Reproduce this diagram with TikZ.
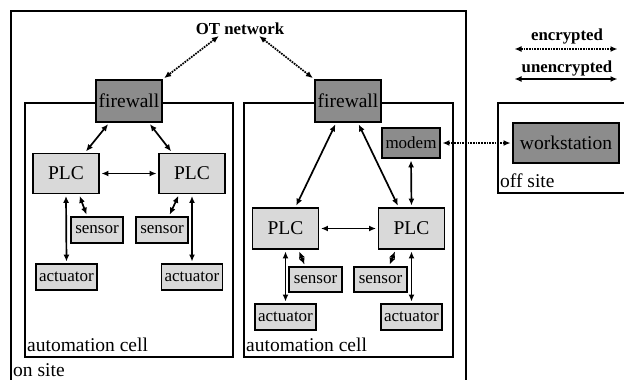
\documentclass[tikz,border=0pt]{standalone}
\usepackage{fontspec}
\setmainfont{Liberation Serif}
\usetikzlibrary{arrows.meta}
\definecolor{darkbox}{RGB}{140,140,140}
\definecolor{lightbox}{RGB}{217,217,217}
\tikzset{
  dev/.style={draw, line width=1.9pt, inner sep=0pt, font=\fontsize{19.5}{20}\selectfont},
  fwbox/.style={dev, fill=darkbox, minimum width=66pt, minimum height=42pt},
  plcbox/.style={dev, fill=lightbox, minimum width=66pt, minimum height=40pt},
  smallbox/.style={dev, fill=lightbox, minimum height=26pt, font=\fontsize{17}{18}\selectfont},
  zone/.style={draw, line width=1.6pt},
  zonelabel/.style={anchor=base west, inner sep=0pt, font=\fontsize{19.5}{20}\selectfont},
  legendlabel/.style={inner sep=0pt, font=\fontsize{16.8}{18}\bfseries\selectfont},
  link/.style={line width=1.7pt, {Latex[length=7pt,width=6pt]}-{Latex[length=7pt,width=6pt]}, shorten <=1.5pt, shorten >=1.5pt},
  crypt/.style={link, densely dotted}
}
\begin{document}
\begin{tikzpicture}[x=1pt, y=-1pt]
\useasboundingbox (0,0) rectangle (624,380);

% zones
\draw[zone] (11,380) -- (11,11) -- (466,11) -- (466,380);
\draw[zone] (25,103) rectangle (233,357);
\draw[zone] (244,103) rectangle (453,357);
\draw[zone] (624,103) -- (498,103) -- (498,193) -- (624,193);
\node[zonelabel] (onsite) at (13,376) {on site};
\node[zonelabel] (cellAlab) at (27,351) {automation cell};
\node[zonelabel] (cellBlab) at (246,351) {automation cell};
\node[zonelabel] (offsite) at (500,187) {off site};

% network
\node[legendlabel] (ot) at (240,29) {OT network};

% cell A
\node[fwbox] (fwA) at (129,101) {firewall};
\node[plcbox] (plcA) at (66,173.5) {PLC};
\node[plcbox] (plcB) at (192,173.5) {PLC};
\node[smallbox, minimum width=52pt] (senA) at (97,230) {sensor};
\node[smallbox, minimum width=52pt] (senB) at (162,230) {sensor};
\node[smallbox, minimum width=61pt] (actA) at (66.5,277) {actuator};
\node[smallbox, minimum width=61pt] (actB) at (192,277) {actuator};

% cell B
\node[fwbox] (fwB) at (348,101) {firewall};
\node[smallbox, fill=darkbox, minimum width=58pt, minimum height=30pt] (modem) at (411,143) {modem};
\node[plcbox, minimum height=41pt] (plcC) at (285.5,228.5) {PLC};
\node[plcbox, minimum height=41pt] (plcD) at (411.5,228.5) {PLC};
\node[smallbox, minimum width=53pt, minimum height=25pt] (senC) at (315.5,279.5) {sensor};
\node[smallbox, minimum width=53pt, minimum height=25pt] (senD) at (380.5,279.5) {sensor};
\node[smallbox, minimum width=61pt] (actC) at (285.5,317) {actuator};
\node[smallbox, minimum width=61pt] (actD) at (411.5,317) {actuator};

% off site
\node[fwbox, minimum width=106pt, minimum height=40pt] (ws) at (566,143) {workstation};

% legend
\node[legendlabel] (enc) at (567,36) {encrypted};
\node[legendlabel] (unenc) at (567,68) {unencrypted};
\coordinate (encL) at (513,49);
\coordinate (encR) at (619,49);
\coordinate (unencL) at (513,79);
\coordinate (unencR) at (619,79);
\draw[crypt] (encL) -- (encR);
\draw[link] (unencL) -- (unencR);

% encrypted links
\draw[crypt] ([xshift=-20]ot.south) -- (fwA.north east);
\draw[crypt] ([xshift=18]ot.south) -- (fwB.north west);
\draw[crypt] (modem.east) -- (ws.west);

% links cell A
\draw[link] ([xshift=14]fwA.south west) -- ([xshift=53]plcA.north west);
\draw[link] ([xshift=-14]fwA.south east) -- ([xshift=14]plcB.north west);
\draw[link] (plcA.east) -- (plcB.west);
\draw[link] (plcA.south) -- (actA.north);
\draw[link] ([xshift=47]plcA.south west) -- ([xshift=17]senA.north west);
\draw[link] ([xshift=21]plcB.south west) -- ([xshift=34]senB.north west);
\draw[link] (plcB.south) -- (actB.north);

% links cell B
\draw[link] ([xshift=22]fwB.south west) -- ([xshift=44]plcC.north west);
\draw[link] ([xshift=44]fwB.south west) -- ([xshift=21]plcD.north west);
\draw[link] (modem.south) -- (plcD.north);
\draw[link] (plcC.east) -- (plcD.west);
\draw[link] (plcC.south) -- (actC.north);
\draw[link] ([xshift=47]plcC.south west) -- ([xshift=17]senC.north west);
\draw[link] ([xshift=18]plcD.south west) -- ([xshift=36]senD.north west);
\draw[link] (plcD.south) -- (actD.north);
\end{tikzpicture}
\end{document}
